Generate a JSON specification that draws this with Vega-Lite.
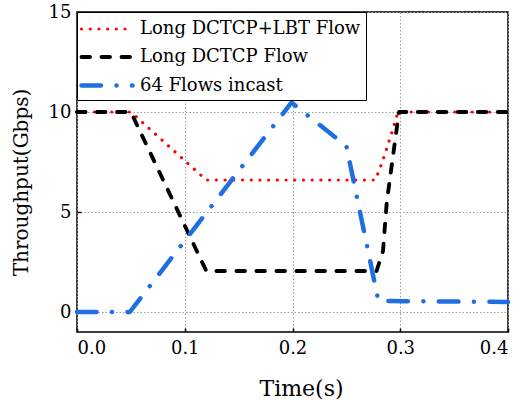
{
  "$schema": "https://vega.github.io/schema/vega-lite/v6.json",
  "width": 431,
  "height": 320,
  "autosize": {"type": "none"},
  "padding": {"left": 77, "top": 12, "right": 15, "bottom": 68},
  "background": "white",
  "config": {
    "font": "DejaVu Serif",
    "view": {"stroke": "black", "strokeWidth": 1.5},
    "axis": {
      "grid": true,
      "gridColor": "#9a9a9a",
      "gridDash": [1.5, 2],
      "gridWidth": 1,
      "domain": false,
      "ticks": true,
      "tickColor": "black",
      "tickWidth": 1.5,
      "tickSize": -4,
      "labelFont": "DejaVu Serif",
      "titleFont": "DejaVu Serif",
      "labelFontSize": 18,
      "labelColor": "black",
      "titleFontSize": 21,
      "titleColor": "black",
      "titleFontWeight": "normal"
    },
    "legend": {
      "labelFont": "DejaVu Serif",
      "titleFont": "DejaVu Serif"
    }
  },
  "data": {
    "values": [
      {"s": "Long DCTCP+LBT Flow", "t": 0, "v": 10},
      {"s": "Long DCTCP+LBT Flow", "t": 0.05, "v": 10},
      {"s": "Long DCTCP+LBT Flow", "t": 0.12, "v": 6.6},
      {"s": "Long DCTCP+LBT Flow", "t": 0.277, "v": 6.6},
      {"s": "Long DCTCP+LBT Flow", "t": 0.284, "v": 7.6},
      {"s": "Long DCTCP+LBT Flow", "t": 0.29, "v": 8.6},
      {"s": "Long DCTCP+LBT Flow", "t": 0.298, "v": 10},
      {"s": "Long DCTCP+LBT Flow", "t": 0.4, "v": 10},
      {"s": "Long DCTCP Flow", "t": 0, "v": 10},
      {"s": "Long DCTCP Flow", "t": 0.05, "v": 10},
      {"s": "Long DCTCP Flow", "t": 0.12, "v": 2.05},
      {"s": "Long DCTCP Flow", "t": 0.278, "v": 2.05},
      {"s": "Long DCTCP Flow", "t": 0.284, "v": 3.05},
      {"s": "Long DCTCP Flow", "t": 0.2875, "v": 5.5},
      {"s": "Long DCTCP Flow", "t": 0.2988, "v": 10},
      {"s": "Long DCTCP Flow", "t": 0.4, "v": 10},
      {"s": "64 Flows incast", "t": 0, "v": 0},
      {"s": "64 Flows incast", "t": 0.049, "v": 0},
      {"s": "64 Flows incast", "t": 0.199, "v": 10.47},
      {"s": "64 Flows incast", "t": 0.25, "v": 8.3},
      {"s": "64 Flows incast", "t": 0.2797, "v": 0.55},
      {"s": "64 Flows incast", "t": 0.4, "v": 0.5}
    ]
  },
  "mark": {"type": "line", "strokeCap": "round", "strokeJoin": "round"},
  "encoding": {
    "x": {
      "field": "t",
      "type": "quantitative",
      "scale": {"domain": [0, 0.4], "nice": false},
      "axis": {"title": "Time(s)", "values": [0, 0.1, 0.2, 0.3, 0.4], "format": ".1f", "labelPadding": 11, "titlePadding": 21, "titleX": 224, "titleFontSize": 22}
    },
    "y": {
      "field": "v",
      "type": "quantitative",
      "scale": {"domain": [-1, 15], "nice": false, "zero": false},
      "axis": {"title": "Throughput(Gbps)", "values": [0, 5, 10, 15], "labelPadding": 10, "titlePadding": 17, "titleFontSize": 20, "titleY": 170}
    },
    "color": {
      "field": "s",
      "type": "nominal",
      "title": null,
      "scale": {
        "domain": ["Long DCTCP+LBT Flow", "Long DCTCP Flow", "64 Flows incast"],
        "range": ["#ff0000", "#000000", "#1f6fe0"]
      },
      "legend": {
        "orient": "top-left",
        "offset": 0,
        "padding": 5,
        "strokeColor": "black",
        "fillColor": "white",
        "labelFontSize": 18,
        "labelColor": "black",
        "labelLimit": 0,
        "labelOffset": 33,
        "rowPadding": 7,
        "symbolType": "M-1.3,0H3.8",
        "symbolSize": 400,
        "symbolStrokeWidth": 3,
        "cornerRadius": 0,
        "encode": {"symbols": {"update": {"strokeCap": {"value": "round"}}}}
      }
    },
    "strokeDash": {
      "field": "s",
      "type": "nominal",
      "title": null,
      "scale": {
        "domain": ["Long DCTCP+LBT Flow", "Long DCTCP Flow", "64 Flows incast"],
        "range": [[0.01, 8.7], [8.5, 11.5], [19.5, 15.5, 0.01, 15.5]]
      }
    },
    "strokeWidth": {
      "field": "s",
      "type": "nominal",
      "title": null,
      "scale": {
        "domain": ["Long DCTCP+LBT Flow", "Long DCTCP Flow", "64 Flows incast"],
        "range": [3.2, 4.5, 3.5]
      }
    }
  }
}
